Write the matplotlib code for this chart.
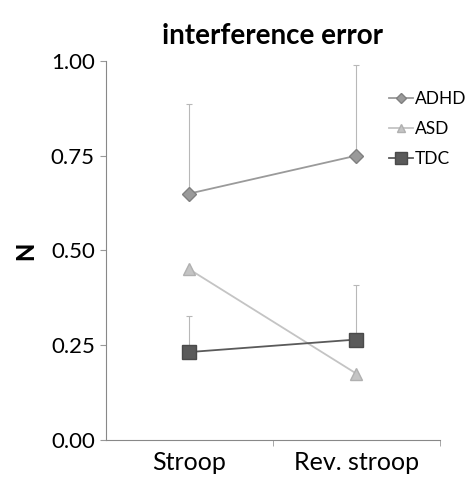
import matplotlib
matplotlib.use('Agg')
import matplotlib.pyplot as plt
from matplotlib.lines import Line2D

conditions = ['Stroop', 'Rev. stroop']
groups = ['ADHD', 'ASD', 'TDC']
adhd = [0.65, 0.75]
asd = [0.45, 0.175]
tdc = [0.232, 0.265]
adhd_err = [0.235, 0.24]
asd_err = [0.0, 0.0]
tdc_err = [0.095, 0.145]

plt.rcParams['font.family'] = ['Lato', 'DejaVu Sans']

fig = plt.figure(figsize=(4.71, 4.83), dpi=100)
ax = fig.add_axes([0.225, 0.089, 0.709, 0.785])

x = list(range(len(conditions)))
styles = [
    (adhd, adhd_err, 'D', '#9a9a9a', '#808080', 7),
    (asd, asd_err, '^', '#c4c4c4', '#b0b0b0', 8),
    (tdc, tdc_err, 's', '#5a5a5a', '#4a4a4a', 10),
]
handles = []
for name, (vals, err, mk, col, ecol, ms) in zip(groups, styles):
    ax.errorbar(x, vals, yerr=[[0] * len(err), err], color=col, marker=mk,
                markersize=ms, markerfacecolor=col, markeredgecolor=ecol,
                ecolor='#b8b8b8', elinewidth=0.8, capsize=2, capthick=0.8,
                lw=1.3)
    handles.append(Line2D([], [], color=col, marker=mk, markersize=ms * 0.8,
                          markerfacecolor=col, markeredgecolor=ecol, lw=1.3))

ax.set_xlim(-0.5, 1.5)
ax.set_ylim(0, 1)
ax.set_yticks([0, 0.25, 0.5, 0.75, 1.0])
ax.set_yticklabels(['0.00', '0.25', '0.50', '0.75', '1.00'], fontsize=16)
ax.set_xticks(x)
ax.set_xticklabels(conditions, fontsize=18)
ax.tick_params(axis='x', length=0, pad=8)
ax.set_xticks([0.5, 1.5], minor=True)
ax.tick_params(axis='x', which='minor', length=4, color='#999999')
ax.tick_params(axis='y', length=4, color='#999999', direction='out', pad=4)
for s in ['top', 'right']:
    ax.spines[s].set_visible(False)
for s in ['left', 'bottom']:
    ax.spines[s].set_color('#888888')
    ax.spines[s].set_linewidth(0.8)

ax.set_ylabel('N', fontsize=17, fontweight='black', labelpad=10)
ax.set_title('interference error', fontsize=20, fontweight='bold', pad=12)

fig.legend(handles, groups, loc='upper left', bbox_to_anchor=(0.826, 0.812),
           frameon=False, fontsize=12.5, handlelength=1.4, handletextpad=0.1,
           labelspacing=0.8, borderpad=0, borderaxespad=0)

fig.savefig('out.png', dpi=100)
